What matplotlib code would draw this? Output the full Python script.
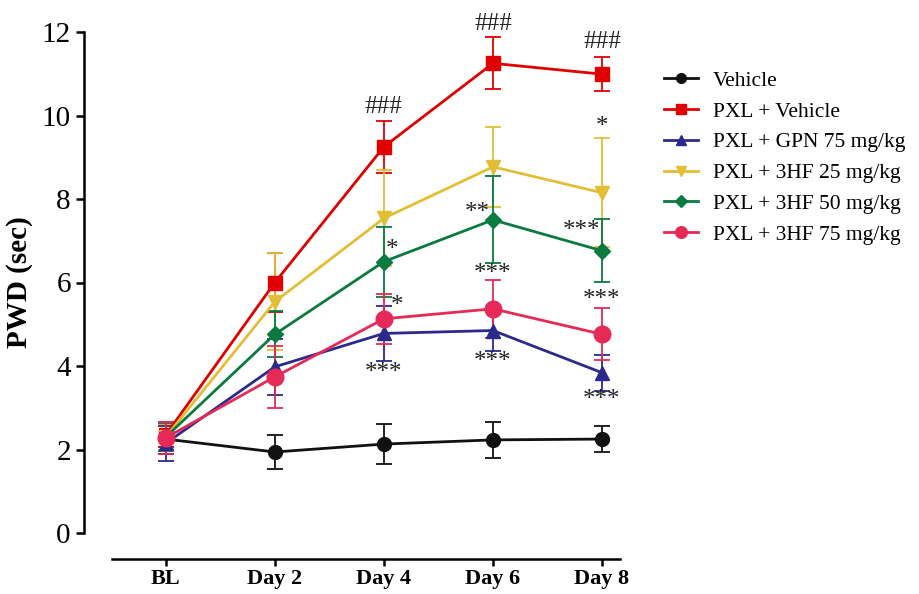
import matplotlib.pyplot as plt
from matplotlib.lines import Line2D

plt.rcParams["font.family"] = ["Liberation Serif", "DejaVu Serif"]

days = ["BL", "Day 2", "Day 4", "Day 6", "Day 8"]
groups = ["Vehicle", "PXL + Vehicle", "PXL + GPN 75 mg/kg",
          "PXL + 3HF 25 mg/kg", "PXL + 3HF 50 mg/kg", "PXL + 3HF 75 mg/kg"]

vehicle = [2.25, 1.94, 2.13, 2.23, 2.25]
vehicle_err = [0.35, 0.40, 0.47, 0.43, 0.31]
pxl = [2.35, 6.00, 9.25, 11.25, 10.99]
pxl_err = [0.30, 0.70, 0.62, 0.62, 0.40]
gpn75 = [2.15, 3.98, 4.78, 4.85, 3.84]
gpn75_err = [0.42, 0.67, 0.65, 0.48, 0.43]
hf25 = [2.30, 5.54, 7.54, 8.77, 8.15]
hf25_err = [0.30, 1.16, 1.15, 0.95, 1.30]
hf50 = [2.30, 4.76, 6.50, 7.50, 6.76]
hf50_err = [0.33, 0.55, 0.84, 1.04, 0.75]
hf75 = [2.28, 3.74, 5.13, 5.37, 4.76]
hf75_err = [0.38, 0.75, 0.60, 0.69, 0.62]

series = [vehicle, pxl, gpn75, hf25, hf50, hf75]
errors = [vehicle_err, pxl_err, gpn75_err, hf25_err, hf50_err, hf75_err]
colors = ["#111111", "#e00000", "#2b2a8c", "#e2be36", "#0a7a40", "#e52a58"]
markers = ["o", "s", "^", "v", "D", "o"]
msizes = [10, 10, 10, 10, 8.5, 12]

# significance marks: (x index, y value, text)
marks = [(2, 10.21, "###"), (3, 12.2, "###"), (4, 11.77, "###"),
         (4, 9.73, "*"), (2.07, 6.78, "*"), (2.86, 7.66, "**"),
         (3.81, 7.24, "***"), (3.0, 6.20, "***"), (4.0, 5.58, "***"),
         (2.12, 5.44, "*"), (2.0, 3.84, "***"), (3.0, 4.10, "***"),
         (4.0, 3.19, "***")]

fig = plt.figure(figsize=(9.19, 5.94), dpi=100)
ax = fig.add_axes([84 / 919, 61 / 594, (620 - 84) / 919, 501 / 594])

x = range(len(days))
handles = []
for vals, err, c, m, ms, name in zip(series, errors, colors, markers, msizes, groups):
    ax.errorbar(x, vals, yerr=err, color=c, marker=m, markersize=ms,
                linewidth=2, elinewidth=1.3, capsize=6, capthick=1.3)
    handles.append(Line2D([], [], color=c, marker=m, markersize=ms * 0.7,
                          linewidth=2, label=name))

for xi, yi, txt in marks:
    ax.text(xi, yi, txt, ha="center", va="center", fontsize=18, color="#222222")

# spines first: moving a spine resets the ticks
for s in ["top", "right"]:
    ax.spines[s].set_visible(False)
ax.spines["left"].set_linewidth(1.8)
ax.spines["bottom"].set_linewidth(1.8)
ax.spines["bottom"].set_position(("outward", 19))

ax.set_xlim(-0.75, 4.165)
ax.set_ylim(0, 12)
ax.spines["bottom"].set_bounds(-0.495, 4.165)
ax.set_yticks(range(0, 13, 2))
ax.set_xticks(list(x))
ax.tick_params(axis="y", labelsize=21, width=1.8, length=6, direction="out")
ax.tick_params(axis="x", labelsize=16, width=1.8, length=5, direction="out", pad=2)
ax.set_xticklabels(days, fontweight="bold", fontsize=16)
ax.set_ylabel("PWD (sec)", fontweight="bold", fontsize=21, labelpad=6)

fig.legend(handles=handles, loc="upper left",
           bbox_to_anchor=(655 / 919, 1 - 62 / 594),
           frameon=False, fontsize=15.5, handlelength=1.6, labelspacing=0.5,
           handletextpad=0.7, borderaxespad=0)

fig.savefig("out.png", dpi=100)
